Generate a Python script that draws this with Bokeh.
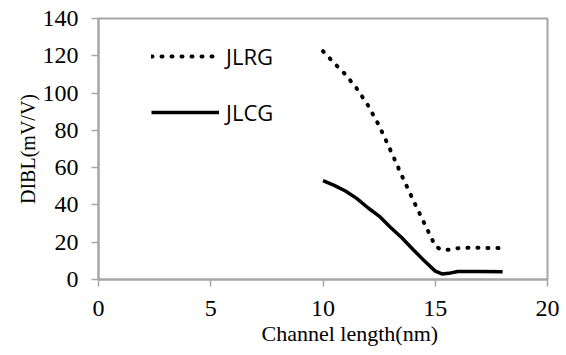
from bokeh.plotting import figure
from bokeh.models import Range1d, FixedTicker, Legend, LegendItem, Title
from bokeh.embed import file_html
from bokeh.resources import INLINE

# Data
jlrg_x = [10, 10.5, 11, 11.5, 12, 12.5, 13, 13.5, 14, 14.5, 15, 15.25, 15.6, 16, 16.5, 17, 17.5, 18]
jlrg_y = [122.5, 116, 110, 102.5, 93.5, 82.5, 69.5, 56, 43, 30.5, 18, 16, 16, 16.8, 17, 17, 16.9, 16.8]

jlcg_x = [10, 10.5, 11, 11.5, 12, 12.5, 13, 13.5, 14, 14.5, 15, 15.3, 15.6, 16, 17, 18]
jlcg_y = [53, 50.5, 47.5, 43.5, 38.5, 34, 28, 22.5, 16.2, 10.2, 4.5, 3, 3.3, 4.3, 4.3, 4.1]

x_ticks = [0, 5, 10, 15, 20]
y_ticks = [0, 20, 40, 60, 80, 100, 120, 140]

GRAY = "#a6a6a6"
SERIF = "Liberation Serif"

p = figure(width=566, height=355, output_backend="svg", toolbar_location=None,
           x_range=Range1d(0, 20), y_range=Range1d(0, 140),
           min_border_left=98, min_border_right=19, min_border_top=18, min_border_bottom=76)

p.xgrid.visible = False
p.ygrid.visible = False
p.outline_line_color = GRAY
p.outline_line_width = 2
p.background_fill_color = "white"
p.border_fill_color = "white"

for ax in (p.xaxis[0], p.yaxis[0]):
    ax.axis_line_color = GRAY
    ax.axis_line_width = 2
    ax.major_tick_line_color = GRAY
    ax.major_tick_line_width = 1.5
    ax.major_tick_out = 7
    ax.major_tick_in = 0
    ax.minor_tick_line_color = None
    ax.major_label_text_font = SERIF
    ax.major_label_text_font_size = "24px"
    ax.major_label_text_color = "black"
    ax.axis_label_text_font = SERIF
    ax.axis_label_text_font_style = "normal"
    ax.axis_label_text_color = "black"

p.xaxis[0].ticker = FixedTicker(ticks=x_ticks)
p.yaxis[0].ticker = FixedTicker(ticks=y_ticks)
p.xaxis[0].major_label_standoff = 14
p.yaxis[0].major_label_standoff = 13
p.yaxis[0].axis_label = "DIBL(mV/V)"
p.yaxis[0].axis_label_text_font_size = "20px"
p.yaxis[0].axis_label_standoff = 1

xtitle = Title(text="Channel length(nm)", align="left", offset=163,
               text_font=SERIF, text_font_size="22px", text_font_style="normal",
               text_color="black", standoff=1)
p.add_layout(xtitle, "below")

r1 = p.line(jlrg_x, jlrg_y, line_color="black", line_width=4, line_dash="1 9", line_cap="round")
r2 = p.line(jlcg_x, jlcg_y, line_color="black", line_width=3.5, line_join="round")

legend = Legend(items=[LegendItem(label="JLRG", renderers=[r1]),
                       LegendItem(label="JLCG", renderers=[r2])],
                location=(53, 152))
legend.glyph_width = 68
legend.glyph_height = 20
legend.spacing = 26
legend.label_standoff = 7
legend.padding = 0
legend.margin = 0
legend.border_line_color = None
legend.background_fill_alpha = 0
legend.label_text_font = "Open Sans"
legend.label_text_font_size = "22px"
legend.label_text_color = "black"
legend.label_height = 20
p.add_layout(legend, "center")

open("out.html", "w").write(file_html(p, INLINE))
